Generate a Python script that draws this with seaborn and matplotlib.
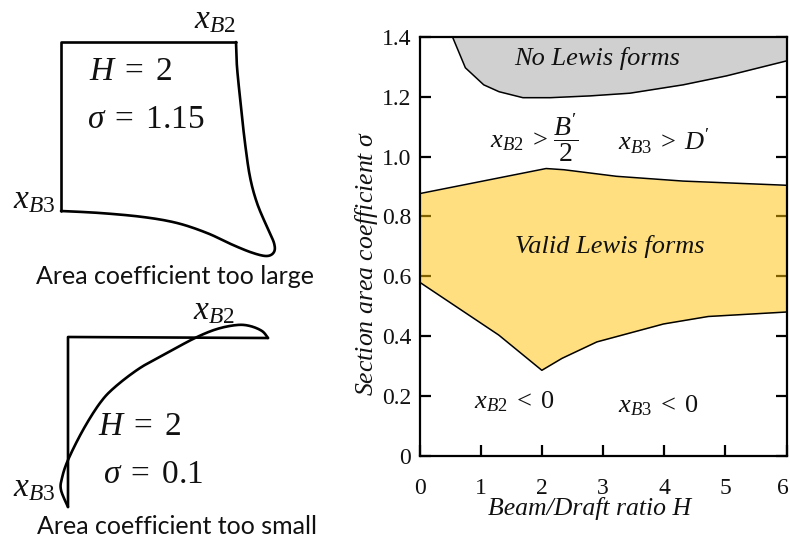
import matplotlib
matplotlib.use("Agg")
import matplotlib.pyplot as plt
from matplotlib.transforms import ScaledTranslation
import numpy as np
import seaborn as sns

# Boundary curves of the Lewis-form chart (H, sigma)
no_lewis_H = [0.54, 0.75, 1.05, 1.30, 1.69, 2.14, 2.79, 3.44, 4.31, 5.02, 6.0]
no_lewis_s = [1.40, 1.297, 1.24, 1.217, 1.197, 1.197, 1.203, 1.212, 1.24, 1.27, 1.32]
valid_top_H = [0.0, 2.07, 2.36, 3.22, 4.31, 6.0]
valid_top_s = [0.876, 0.96, 0.956, 0.934, 0.918, 0.904]
valid_bot_H = [0.0, 1.295, 2.0, 2.33, 2.9, 3.99, 4.72, 6.0]
valid_bot_s = [0.58, 0.403, 0.285, 0.325, 0.38, 0.44, 0.465, 0.48]
x_ticks = [0, 1, 2, 3, 4, 5, 6]
y_ticks = [0, 0.2, 0.4, 0.6, 0.8, 1.0, 1.2, 1.4]
y_labels = ["0", "0.2", "0.4", "0.6", "0.8", "1.0", "1.2", "1.4"]

# Sketched sections, pixel positions on the page
large_box_x = [61, 61, 61, 236]
large_box_y = [211, 100, 42, 42]
large_x = [236, 237, 241, 245, 250, 257, 267, 274, 274, 267, 253, 233, 207, 177, 143, 100, 61]
large_y = [42, 67, 107, 143, 177, 203, 227, 243, 252, 256, 253, 245, 233, 223, 217, 213, 211]
small_box_x = [68, 68, 268]
small_box_y = [507, 337, 338]
small_x = [268, 262, 250, 237, 217, 195, 167, 140, 115, 100, 83, 68, 62, 61, 68]
small_y = [338, 331, 326, 325, 329, 338, 353, 368, 387, 403, 430, 460, 478, 490, 507]


def smooth(xs, ys, n=12):
    """Round a hand-drawn outline through its read points (Catmull-Rom)."""
    p = np.column_stack([xs, ys]).astype(float)
    p = np.vstack([p[0], p, p[-1]])
    t = np.linspace(0, 1, n, endpoint=False)[:, None]
    out = []
    for a, b, c, d in zip(p[:-3], p[1:-2], p[2:-1], p[3:]):
        out.append(0.5 * (2 * b + (c - a) * t + (2 * a - 5 * b + 4 * c - d) * t**2
                          + (3 * b - a - 3 * c + d) * t**3))
    out.append(p[-1][None, :])
    out = np.vstack(out)
    return out[:, 0], out[:, 1]


sns.set_theme(style="ticks")
plt.rcParams["font.family"] = ["Liberation Serif", "DejaVu Serif"]
plt.rcParams["mathtext.fontset"] = "custom"
plt.rcParams["mathtext.rm"] = "Liberation Serif"
plt.rcParams["mathtext.it"] = "Liberation Serif:italic"
plt.rcParams["mathtext.bf"] = "Liberation Serif:bold"

W, H = 790, 538
INK = "#111111"
fig = plt.figure(figsize=(W / 100, H / 100), dpi=100)

# Chart
ax = fig.add_axes([419.5 / W, 1 - 455.5 / H, 367 / W, 418.5 / H])
ax.set_axisbelow(True)
ax.fill_between(no_lewis_H, no_lewis_s, 1.4, color="#D0D0D0", lw=0, zorder=1)
all_H = sorted(set(valid_top_H + valid_bot_H))
ax.fill_between(all_H, np.interp(all_H, valid_bot_H, valid_bot_s), np.interp(all_H, valid_top_H, valid_top_s),
                color="#FFC000", alpha=0.5, lw=0, zorder=1)
for xs, ys in [(no_lewis_H, no_lewis_s), (valid_top_H, valid_top_s), (valid_bot_H, valid_bot_s)]:
    sns.lineplot(x=xs, y=ys, ax=ax, color="black", lw=1.1, sort=False, estimator=None, zorder=2)
ax.set_xlim(0, 6)
ax.set_ylim(0, 1.4)
ax.set_xticks(x_ticks)
ax.set_yticks(y_ticks)
ax.set_yticklabels(y_labels)
ax.tick_params(axis="both", direction="in", length=8, width=1.6, color="black", labelsize=17,
               labelcolor=INK, left=True, right=True, top=False, bottom=True)
ax.tick_params(axis="x", pad=16)
ax.tick_params(axis="y", pad=6)
for s in ax.spines.values():
    s.set_linewidth(1.6)
    s.set_color("black")
last = ax.get_xticklabels()[-1]
last.set_transform(last.get_transform() + ScaledTranslation(-4 / 100, 0, fig.dpi_scale_trans))
ax.set_xlabel("Beam/Draft ratio H", fontsize=18.5, fontstyle="italic", color=INK)
ax.xaxis.set_label_coords((590 - 419.5) / 367, -(497 - 455.5) / 418.5)
ax.set_ylabel(r"Section area coefficient $\sigma$", fontsize=18.5, fontstyle="italic", color=INK)
ax.yaxis.set_label_coords((380 - 419.5) / 367, (455.5 - 263) / 418.5)

for hx, sg, label, fs in [
    (2.91, 1.328, "No Lewis forms", 19),
    (3.11, 0.70, "Valid Lewis forms", 19),
    (2.39, 1.06, r"$\dfrac{B'}{2}$", 20),
    (1.63, 1.05, r"$x_{B2}\;>$", 19),
    (4.00, 1.05, r"$x_{B3}\;>\;D'$", 19),
    (1.55, 0.18, r"$x_{B2}\;<\;0$", 19),
    (3.91, 0.165, r"$x_{B3}\;<\;0$", 19),
]:
    ax.text(hx, sg, label, ha="center", va="center", fontsize=fs, fontstyle="italic", color=INK, zorder=3)

# Sketch layer in page pixels
pg = fig.add_axes([0, 0, 1, 1], facecolor="none")
pg.set_xlim(0, W)
pg.set_ylim(H, 0)
pg.axis("off")
for xs, ys in [(large_box_x, large_box_y), (small_box_x, small_box_y)]:
    sns.lineplot(x=xs, y=ys, ax=pg, color="black", lw=1.9, sort=False, estimator=None)
for xs, ys in [(large_x, large_y), (small_x, small_y)]:
    sx, sy = smooth(xs, ys)
    sns.lineplot(x=sx, y=sy, ax=pg, color="black", lw=1.9, sort=False, estimator=None)
for px, py, label, fs in [
    (215, 20, r"$x_{B2}$", 24),
    (34, 200, r"$x_{B3}$", 24),
    (131, 72, r"$H\;=\;2$", 24),
    (146, 120, r"$\sigma\;=\;1.15$", 24),
    (214, 311, r"$x_{B2}$", 24),
    (34, 488, r"$x_{B3}$", 24),
    (140, 427, r"$H\;=\;2$", 24),
    (153, 475, r"$\sigma\;=\;0.1$", 24),
]:
    pg.text(px, py, label, ha="center", va="center", fontsize=fs, color=INK)
for px, py, label in [(175, 276, "Area coefficient too large"), (177, 526, "Area coefficient too small")]:
    pg.text(px, py, label, ha="center", va="center", fontsize=18, family="Lato", color=INK)

fig.savefig("out.png", dpi=100)
